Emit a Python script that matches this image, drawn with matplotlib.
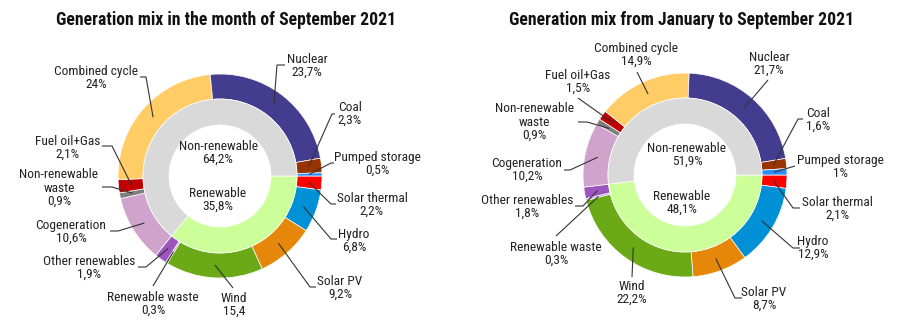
import numpy as np
import matplotlib
matplotlib.use("Agg")
import matplotlib.pyplot as plt
import matplotlib.font_manager as fm

# ---------------- data ----------------
categories = ["Solar thermal", "Hydro", "Solar PV", "Wind", "Renewable waste",
              "Other renewables", "Cogeneration", "Non-renewable waste",
              "Fuel oil+Gas", "Combined cycle", "Nuclear", "Coal", "Pumped storage"]
cat_labels = ["Solar thermal", "Hydro", "Solar PV", "Wind", "Renewable waste",
              "Other renewables", "Cogeneration", "Non-renewable\nwaste",
              "Fuel oil+Gas", "Combined cycle", "Nuclear", "Coal", "Pumped storage"]

sep_values = [2.2, 6.8, 9.2, 15.4, 0.3, 1.9, 10.6, 0.9, 2.1, 24.0, 23.7, 2.3, 0.5]
sep_texts = ["2,2%", "6,8%", "9,2%", "15,4", "0,3%", "1,9%", "10,6%", "0,9%",
             "2,1%", "24%", "23,7%", "2,3%", "0,5%"]
ytd_values = [2.1, 12.9, 8.7, 22.2, 0.3, 1.8, 10.2, 0.9, 1.5, 14.9, 21.7, 1.6, 1.0]
ytd_texts = ["2,1%", "12,9%", "8,7%", "22,2%", "0,3%", "1,8%", "10,2%", "0,9%",
             "1,5%", "14,9%", "21,7%", "1,6%", "1%"]

groups = ["Renewable", "Non-renewable"]
sep_groups = [35.8, 64.2]
sep_group_texts = ["35,8%", "64,2%"]
ytd_groups = [48.1, 51.9]
ytd_group_texts = ["48,1%", "51,9%"]

titles = ["Generation mix in the month of September 2021",
          "Generation mix from January to September 2021"]

# ---------------- style ----------------
colors = ["#FF0000", "#0090D6", "#E6870A", "#6BAA16", "#B98BD0",
          "#9A55BE", "#CFA3CB", "#7F7F7F", "#C00000", "#FFCC66",
          "#443C8E", "#993300", "#2A8CFF"]
group_colors = ["#CCFF99", "#D9D9D9"]

names = {f.name for f in fm.fontManager.ttflist}
fam = None
for cand in ["Roboto Condensed", "Liberation Sans Narrow", "Open Sans Condensed"]:
    if cand in names:
        fam = cand
        break
if fam is None:
    fp_reg = fm.FontProperties(family="DejaVu Sans", stretch="condensed", size=9)
    fp_bold = fm.FontProperties(family="DejaVu Sans", stretch="condensed", weight="bold", size=11.5)
else:
    fp_reg = fm.FontProperties(family=fam, size=9.6)
    fp_bold = fm.FontProperties(family=fam, weight="bold", size=12.7)

W, H = 900, 335
fig = plt.figure(figsize=(9, 3.35), dpi=100)
ax = fig.add_axes([0, 0, 1, 1])

# layout (pixel coords, y measured from top): text centre, elbow, end
layouts = [
    {"center": (220, 176), "title": (226, 20),
     "inner": [(218, 200), (218, 153)],
     "text": [(372, 205), (354, 241), (340, 288), (234, 305), (153, 304), (89, 268),
              (71, 232), (59, 188), (68, 148), (96, 78), (307, 66), (350, 114), (377, 164)],
     "elbow": [(331, 204), (331, 239), (310, 287), (233, 288), (153, 286), (146, 267),
               (118, 231), (112, 187), (112, 146), (146, 77), (277, 65), (332, 114), (331, 163)],
     "end": [(336, 204), (337, 239), (316, 287), None, None, (138, 267),
             (110, 231), (102, 187), (102, 146), (140, 77), (285, 65), (335, 114), (334, 163)]},
    {"center": (685, 175), "title": (682, 20),
     "inner": [(682, 203), (687, 155)],
     "text": [(837, 209), (813, 248), (764, 299), (632, 293), (556, 254), (527, 207),
              (527, 170), (534, 122), (578, 82), (636, 55), (769, 64), (818, 120), (840, 167)],
     "elbow": [(793, 208), (793, 248), (735, 298), (632, 277), (556, 236), (583, 206),
               (570, 170), (587, 122), (578, 98), (637, 72), (768, 80), (798, 119), (795, 166)],
     "end": [(800, 208), (800, 248), (742, 298), None, None, (575, 206),
             (564, 170), (578, 122), None, None, None, (803, 119), None]},
]

R_OUT, W_OUT = 102, 25
R_IN, W_IN = 77, 26
TXT = "#222222"

def Y(y):
    return H - y

charts = [(sep_values, sep_texts, sep_groups, sep_group_texts),
          (ytd_values, ytd_texts, ytd_groups, ytd_group_texts)]

for (vals, txts, gvals, gtxts), lay, title in zip(charts, layouts, titles):
    cx, cy = lay["center"]
    c = (cx, Y(cy))
    ax.pie(vals, colors=colors, radius=R_OUT, center=c, startangle=0,
           counterclock=False, normalize=True,
           wedgeprops=dict(width=W_OUT, edgecolor="white", linewidth=0.5))
    ax.pie(gvals, colors=group_colors, radius=R_IN, center=c, startangle=0,
           counterclock=False, normalize=True,
           wedgeprops=dict(width=W_IN, edgecolor="white", linewidth=0.5))
    # leader lines
    total = float(sum(vals))
    cum = np.cumsum([0] + list(vals))[:-1]
    for i, v in enumerate(vals):
        mid = (cum[i] + v / 2) / total
        th = -2 * np.pi * mid
        sx, sy = cx + 89 * np.cos(th), cy - 89 * np.sin(th)
        ex, ey = lay["elbow"][i]
        xs, ys = [sx, ex], [sy, ey]
        if lay["end"][i] is not None:
            xs.append(lay["end"][i][0]); ys.append(lay["end"][i][1])
        ax.plot(xs, [Y(y) for y in ys], color="#333333", lw=0.8,
                solid_capstyle="butt", zorder=5)
        tx, ty = lay["text"][i]
        ax.text(tx, Y(ty), cat_labels[i] + "\n" + txts[i], ha="center", va="center",
                fontproperties=fp_reg, color=TXT, linespacing=1.02, zorder=6)
    for (gx, gy), g, gt in zip(lay["inner"], groups, gtxts):
        ax.text(gx, Y(gy), g + "\n" + gt, ha="center", va="center",
                fontproperties=fp_reg, color=TXT, linespacing=1.02)
    tx, ty = lay["title"]
    ax.text(tx, Y(ty), title, ha="center", va="center", fontproperties=fp_bold,
            color="#111111")

ax.set_xlim(0, W)
ax.set_ylim(0, H)
ax.set_aspect("equal")
ax.axis("off")
fig.savefig("out.png", dpi=100, facecolor="white")
